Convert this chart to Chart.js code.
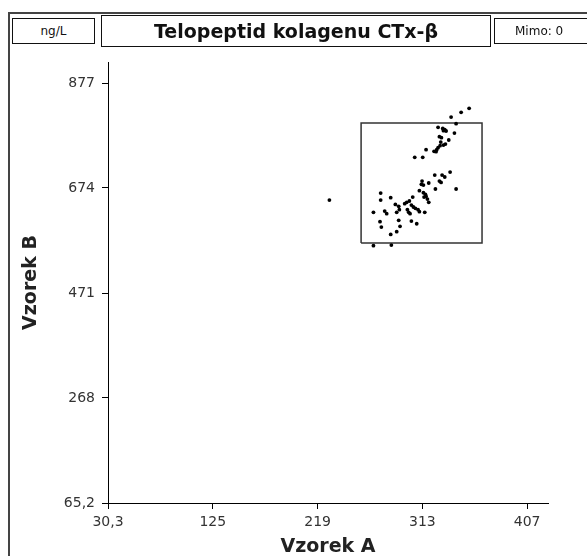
<!DOCTYPE html>
<html>
<head>
<meta charset="utf-8">
<script src="https://cdn.jsdelivr.net/npm/chart.js@4/dist/chart.umd.min.js"></script>
<style>
  html, body { margin: 0; padding: 0; background: #fff; }
  #wrap { position: relative; width: 587px; height: 556px; overflow: hidden; font-family: "DejaVu Sans", sans-serif; }
  #chart { position: absolute; left: 0; top: 0; }
  .frame-left { position: absolute; left: 8px; top: 12px; width: 2px; height: 560px; background: #444; }
  .frame-top { position: absolute; left: 8px; top: 12px; width: 600px; height: 2px; background: #444; }
  .hbox { position: absolute; border: 1px solid #111; background: #fff; box-sizing: border-box;
          display: flex; align-items: center; justify-content: center; color: #111; }
</style>
</head>
<body>
<div id="wrap">
  <canvas id="chart" width="587" height="556"></canvas>
  <div class="frame-left"></div>
  <div class="frame-top"></div>
  <div class="hbox" style="left:12px;top:18px;width:83px;height:26px;font-size:12px;">ng/L</div>
  <div class="hbox" style="left:101px;top:15px;width:390px;height:32px;font-size:19px;font-weight:bold;border-width:1.5px;">Telopeptid kolagenu CTx-β</div>
  <div class="hbox" style="left:494px;top:18px;width:110px;height:26px;font-size:12px;justify-content:flex-start;padding-left:20px;">Mimo: 0</div>
</div>
<script>
// values
const sampleA = [354.9,347.7,338.7,343.2,327.0,331.2,333.0,334.2,331.8,341.7,
  328.2,330.0,336.6,329.4,331.8,328.8,333.6,327.0,325.8,323.4,
  325.2,316.2,313.2,306.0,337.8,324.0,330.6,333.0,328.2,329.7,
  312.6,312.0,313.8,318.6,324.6,343.2,275.4,310.2,313.8,315.6,
  314.4,316.2,317.4,318.6,304.2,275.4,284.4,301.2,298.8,297.0,
  288.6,291.6,303.0,304.8,306.6,309.0,310.2,279.0,280.8,268.9,
  292.2,289.8,299.4,300.6,301.8,315.0,274.8,276.0,291.6,292.8,
  289.8,303.0,307.8,284.4,268.9,285.0,229.3];
const sampleB = [828.0,820.3,811.2,798.3,791.3,789.3,786.7,784.2,784.8,780.3,
  773.2,771.3,766.8,762.9,757.1,755.8,759.0,752.0,748.1,744.9,
  744.2,748.1,733.3,733.3,704.9,699.1,699.1,695.3,687.5,684.9,
  687.5,681.1,679.8,683.7,672.1,672.1,664.3,668.8,665.0,661.8,
  656.6,657.9,652.7,646.3,656.6,650.8,655.3,648.9,646.3,643.7,
  642.4,638.6,641.1,637.3,634.7,632.1,628.2,629.5,624.4,627.0,
  632.1,627.0,632.1,627.0,624.4,627.0,608.9,598.6,611.5,599.9,
  589.6,610.2,605.0,584.4,562.5,563.8,650.8];

// limits box
const boxA = [257.8, 366.5, 366.5, 257.8, 257.8];
const boxB = [567.7, 567.7, 799.6, 799.6, 567.7];

const xTicks = [30.3, 124.5, 218.7, 312.9, 407];
const xTickLabels = ['30,3', '125', '219', '313', '407'];
const yTicks = [65.2, 268.2, 471.1, 674.1, 877];
const yTickLabels = ['65,2', '268', '471', '674', '877'];
const xRange = [30.3, 425.8];
const yRange = [65.2, 917.6];

const points = sampleA.map((a, i) => ({ x: a, y: sampleB[i] }));
const boxPts = boxA.map((a, i) => ({ x: a, y: boxB[i] }));

const tickFont = { family: 'DejaVu Sans', size: 14 };
const titleFont = { family: 'DejaVu Sans', size: 19, weight: 'bold' };

new Chart(document.getElementById('chart'), {
  type: 'scatter',
  data: {
    datasets: [{
      data: points,
      backgroundColor: '#000',
      borderColor: '#000',
      pointRadius: 1.9,
      pointBorderWidth: 0
    }, {
      data: boxPts,
      showLine: true,
      borderColor: '#333',
      borderWidth: 1.5,
      pointRadius: 0,
      fill: false
    }]
  },
  options: {
    responsive: false,
    devicePixelRatio: 1,
    animation: false,
    layout: { padding: { left: 20, top: 62, right: 39, bottom: 0 } },
    plugins: { legend: { display: false }, tooltip: { enabled: false } },
    scales: {
      x: {
        type: 'linear',
        min: xRange[0], max: xRange[1],
        afterBuildTicks: s => { s.ticks = xTicks.map(v => ({ value: v })); },
        afterFit: s => { s.height = 53; },
        ticks: { callback: (v, i) => xTickLabels[i], font: tickFont, color: '#333', padding: 5, maxRotation: 0, autoSkip: false },
        grid: { drawOnChartArea: false, drawTicks: true, tickLength: 6, color: '#000' },
        border: { color: '#000', width: 1 },
        title: { display: true, text: 'Vzorek A', font: titleFont, color: '#222', padding: { top: 0, bottom: -2 } }
      },
      y: {
        type: 'linear',
        min: yRange[0], max: yRange[1],
        afterBuildTicks: s => { s.ticks = yTicks.map(v => ({ value: v })); },
        afterFit: s => { s.width = 88; },
        ticks: { callback: (v, i) => yTickLabels[i], font: tickFont, color: '#333', padding: 7, autoSkip: false },
        grid: { drawOnChartArea: false, drawTicks: true, tickLength: 6, color: '#000' },
        border: { color: '#000', width: 1 },
        title: { display: true, text: 'Vzorek B', font: titleFont, color: '#222', padding: { top: 0, bottom: 0 } }
      }
    }
  }
});
</script>
</body>
</html>
